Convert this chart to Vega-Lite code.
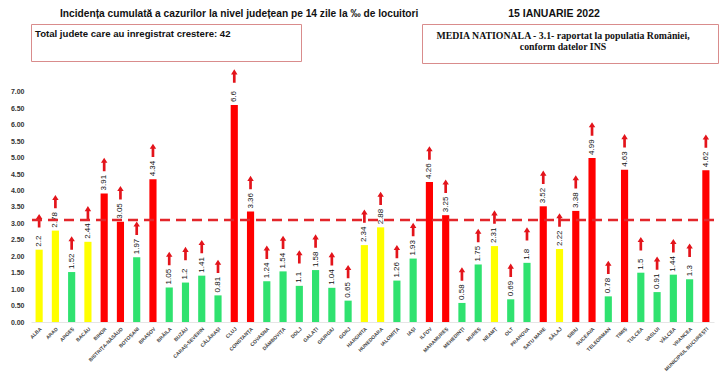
{
  "$schema": "https://vega.github.io/schema/vega-lite/v6.json",
  "background": "white",
  "padding": {"left": 10, "top": 8, "right": 5, "bottom": 4},
  "config": {"view": {"stroke": null}, "font": "Liberation Sans"},
  "spacing": 39,
  "bounds": "flush",
  "vconcat": [
    {
      "hconcat": [
        {
          "width": 270,
          "height": 37,
          "view": {"stroke": "#d98c8c", "strokeWidth": 1},
          "title": {"text": "Incidența cumulată a cazurilor la nivel județean pe 14 zile la ‰ de locuitori", "anchor": "start", "dx": 29, "fontSize": 10.2, "fontWeight": "bold", "color": "#111", "offset": 5},
          "data": {"values": [{"t": "Total judete care au inregistrat crestere: 42"}]},
          "mark": {"type": "text", "align": "left", "baseline": "top", "dx": -131, "dy": -14, "fontSize": 9.6, "fontWeight": "bold", "color": "#111"},
          "encoding": {"text": {"field": "t", "type": "nominal"}}
        },
        {
          "width": 296,
          "height": 39,
          "view": {"stroke": "#d98c8c", "strokeWidth": 1},
          "title": {"text": "15 IANUARIE 2022", "anchor": "middle", "dx": -16, "fontSize": 10.5, "fontWeight": "bold", "color": "#111", "offset": 5},
          "data": {"values": [{"t": "MEDIA NATIONALA - 3.1-  raportat la populatia României,\nconform datelor INS"}]},
          "mark": {"type": "text", "lineBreak": "\n", "lineHeight": 11, "font": "Liberation Serif", "fontWeight": "bold", "fontSize": 9.8, "color": "#111", "dx": -7, "dy": -8},
          "encoding": {"text": {"field": "t", "type": "nominal"}}
        }
      ],
      "spacing": 121,
      "bounds": "flush"
    },
    {
      "width": 683,
      "height": 259,
      "data": {"values": [
        {"judet": "ALBA", "incidenta": 2.2},
        {"judet": "ARAD", "incidenta": 2.78},
        {"judet": "ARGEȘ", "incidenta": 1.52},
        {"judet": "BACĂU", "incidenta": 2.44},
        {"judet": "BIHOR", "incidenta": 3.91},
        {"judet": "BISTRIȚA-NĂSĂUD", "incidenta": 3.05},
        {"judet": "BOTOȘANI", "incidenta": 1.97},
        {"judet": "BRAȘOV", "incidenta": 4.34},
        {"judet": "BRĂILA", "incidenta": 1.05},
        {"judet": "BUZĂU", "incidenta": 1.2},
        {"judet": "CARAȘ-SEVERIN", "incidenta": 1.41},
        {"judet": "CĂLĂRAȘI", "incidenta": 0.81},
        {"judet": "CLUJ", "incidenta": 6.6},
        {"judet": "CONSTANȚA", "incidenta": 3.36},
        {"judet": "COVASNA", "incidenta": 1.24},
        {"judet": "DÂMBOVIȚA", "incidenta": 1.54},
        {"judet": "DOLJ", "incidenta": 1.1},
        {"judet": "GALAȚI", "incidenta": 1.58},
        {"judet": "GIURGIU", "incidenta": 1.04},
        {"judet": "GORJ", "incidenta": 0.65},
        {"judet": "HARGHITA", "incidenta": 2.34},
        {"judet": "HUNEDOARA", "incidenta": 2.88},
        {"judet": "IALOMIȚA", "incidenta": 1.26},
        {"judet": "IAȘI", "incidenta": 1.93},
        {"judet": "ILFOV", "incidenta": 4.26},
        {"judet": "MARAMUREȘ", "incidenta": 3.25},
        {"judet": "MEHEDINȚI", "incidenta": 0.58},
        {"judet": "MUREȘ", "incidenta": 1.75},
        {"judet": "NEAMȚ", "incidenta": 2.31},
        {"judet": "OLT", "incidenta": 0.69},
        {"judet": "PRAHOVA", "incidenta": 1.8},
        {"judet": "SATU MARE", "incidenta": 3.52},
        {"judet": "SĂLAJ", "incidenta": 2.22},
        {"judet": "SIBIU", "incidenta": 3.38},
        {"judet": "SUCEAVA", "incidenta": 4.99},
        {"judet": "TELEORMAN", "incidenta": 0.78},
        {"judet": "TIMIȘ", "incidenta": 4.63},
        {"judet": "TULCEA", "incidenta": 1.5},
        {"judet": "VASLUI", "incidenta": 0.91},
        {"judet": "VÂLCEA", "incidenta": 1.44},
        {"judet": "VRANCEA", "incidenta": 1.3},
        {"judet": "MUNICIPIUL BUCUREȘTI", "incidenta": 4.62}
      ]},
      "layer": [
        {
          "encoding": {
            "x": {
              "field": "judet", "type": "nominal", "sort": null,
              "scale": {"paddingInner": 0.56, "paddingOuter": 0.28},
              "axis": {"title": null, "labelAngle": -45, "labelFontSize": 5, "labelColor": "#444", "labelFontWeight": "bold", "ticks": false, "labelPadding": 4, "domainColor": "#e6e6e6", "labelOverlap": false}
            },
            "y": {
              "field": "incidenta", "type": "quantitative",
              "scale": {"domain": [0, 7.88], "nice": false},
              "axis": {"title": null, "values": [0, 0.5, 1, 1.5, 2, 2.5, 3, 3.5, 4, 4.5, 5, 5.5, 6, 6.5, 7], "format": ".2f", "labelFontSize": 7, "labelColor": "#333", "labelFontWeight": "bold", "grid": false, "ticks": false, "domain": false, "labelPadding": 7, "labelOverlap": false, "labelBound": false}
            }
          },
          "layer": [
            {
              "mark": {"type": "bar"},
              "encoding": {
                "color": {"field": "incidenta", "type": "quantitative", "scale": {"type": "threshold", "domain": [2, 3], "range": ["#2fe26f", "#ffff00", "#ff0000"]}, "legend": null}
              }
            },
            {
              "mark": {"type": "text", "angle": 270, "align": "left", "baseline": "middle", "dx": 3, "fontSize": 8, "color": "#111"},
              "encoding": {"text": {"field": "incidenta", "type": "quantitative"}}
            },
            {
              "mark": {"type": "point", "shape": "M0,-1 L0.48,-0.25 L0.2,-0.25 L0.2,1 L-0.2,1 L-0.2,-0.25 L-0.48,-0.25 Z", "filled": true, "color": "#e3141b", "opacity": 1, "size": 180, "yOffset": -29, "strokeWidth": 0}
            }
          ]
        },
        {
          "data": {"values": [{"media": 3.1}]},
          "mark": {"type": "rule", "color": "#e3262b", "strokeWidth": 2.5, "strokeDash": [10, 6]},
          "encoding": {
            "y": {
              "field": "media", "type": "quantitative",
              "scale": {"domain": [0, 7.88], "nice": false},
              "axis": {"title": null, "values": [0, 0.5, 1, 1.5, 2, 2.5, 3, 3.5, 4, 4.5, 5, 5.5, 6, 6.5, 7], "format": ".2f", "labelFontSize": 7, "labelColor": "#333", "labelFontWeight": "bold", "grid": false, "ticks": false, "domain": false, "labelPadding": 7, "labelOverlap": false, "labelBound": false}
            }
          }
        }
      ]
    }
  ]
}
